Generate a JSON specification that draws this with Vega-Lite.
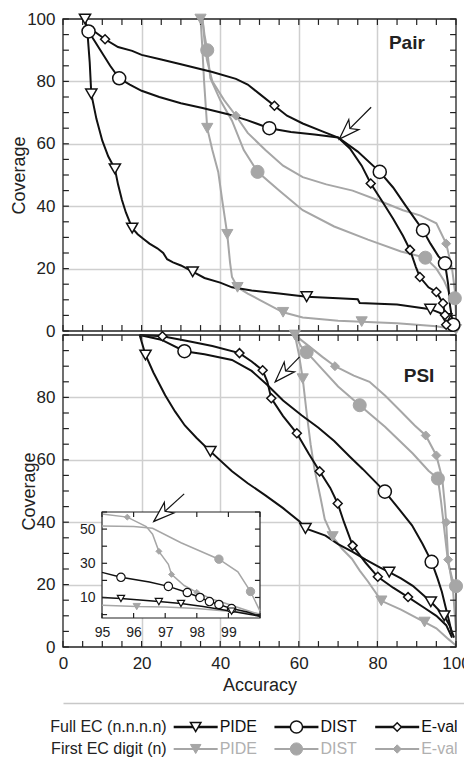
{
"$schema": "https://vega.github.io/schema/vega-lite/v6.json",
"padding": {"left": 10, "top": 10, "right": 0, "bottom": 0},
"config": {
  "font": "Liberation Sans",
  "view": {"stroke": null},
  "axis": {"labelFont": "Liberation Sans", "titleFont": "Liberation Sans", "labelFontSize": 17, "titleFontSize": 18, "titleFontWeight": "normal", "labelColor": "#222", "titleColor": "#222", "domainColor": "#222", "tickColor": "#111", "domainWidth": 1.2, "tickWidth": 1.5, "tickOpacity": 0, "labelOverlap": false, "labelFlush": false, "minExtent": 0},
  "axisX": {"minExtent": 0},
  "axisY": {"minExtent": 0}
},
"datasets": {
"pair": [
{"series":"PIDE","ec":"full","x":5.6,"y":100,"m":1},{"series":"PIDE","ec":"full","x":6.2,"y":96,"m":0},{"series":"PIDE","ec":"full","x":6.8,"y":86,"m":0},{"series":"PIDE","ec":"full","x":7.2,"y":76,"m":1},{"series":"PIDE","ec":"full","x":8.5,"y":68,"m":0},{"series":"PIDE","ec":"full","x":10,"y":61,"m":0},{"series":"PIDE","ec":"full","x":11.5,"y":56,"m":0},{"series":"PIDE","ec":"full","x":13.2,"y":52,"m":1},{"series":"PIDE","ec":"full","x":14,"y":47,"m":0},{"series":"PIDE","ec":"full","x":15,"y":42,"m":0},{"series":"PIDE","ec":"full","x":16,"y":38,"m":0},{"series":"PIDE","ec":"full","x":17.6,"y":33,"m":1},{"series":"PIDE","ec":"full","x":19,"y":31,"m":0},{"series":"PIDE","ec":"full","x":20.5,"y":29.5,"m":0},{"series":"PIDE","ec":"full","x":22,"y":28,"m":0},{"series":"PIDE","ec":"full","x":24,"y":26.5,"m":0},{"series":"PIDE","ec":"full","x":25.5,"y":25,"m":0},{"series":"PIDE","ec":"full","x":26.5,"y":23,"m":0},{"series":"PIDE","ec":"full","x":28,"y":22,"m":0},{"series":"PIDE","ec":"full","x":30,"y":21,"m":0},{"series":"PIDE","ec":"full","x":33,"y":19,"m":1},{"series":"PIDE","ec":"full","x":36,"y":17,"m":0},{"series":"PIDE","ec":"full","x":40,"y":15.5,"m":0},{"series":"PIDE","ec":"full","x":43,"y":14,"m":0},{"series":"PIDE","ec":"full","x":48,"y":13,"m":0},{"series":"PIDE","ec":"full","x":55,"y":12,"m":0},{"series":"PIDE","ec":"full","x":62,"y":11,"m":1},{"series":"PIDE","ec":"full","x":70,"y":10.5,"m":0},{"series":"PIDE","ec":"full","x":75,"y":10.2,"m":0},{"series":"PIDE","ec":"full","x":75.5,"y":9,"m":0},{"series":"PIDE","ec":"full","x":85,"y":8.5,"m":0},{"series":"PIDE","ec":"full","x":93.5,"y":7,"m":1},{"series":"PIDE","ec":"full","x":96.5,"y":5.5,"m":0},{"series":"PIDE","ec":"full","x":97.5,"y":4,"m":1},{"series":"PIDE","ec":"full","x":98.5,"y":1.5,"m":0},
{"series":"DIST","ec":"full","x":6.5,"y":96,"m":1},{"series":"DIST","ec":"full","x":8,"y":93,"m":0},{"series":"DIST","ec":"full","x":10,"y":89,"m":0},{"series":"DIST","ec":"full","x":12,"y":85,"m":0},{"series":"DIST","ec":"full","x":14.3,"y":81,"m":1},{"series":"DIST","ec":"full","x":17,"y":79,"m":0},{"series":"DIST","ec":"full","x":20,"y":77,"m":0},{"series":"DIST","ec":"full","x":24.5,"y":75,"m":0},{"series":"DIST","ec":"full","x":30,"y":73,"m":0},{"series":"DIST","ec":"full","x":35.5,"y":71.5,"m":0},{"series":"DIST","ec":"full","x":42,"y":69.5,"m":0},{"series":"DIST","ec":"full","x":47,"y":67.5,"m":0},{"series":"DIST","ec":"full","x":52.5,"y":65,"m":1},{"series":"DIST","ec":"full","x":58,"y":63.8,"m":0},{"series":"DIST","ec":"full","x":64,"y":63,"m":0},{"series":"DIST","ec":"full","x":70,"y":62,"m":0},{"series":"DIST","ec":"full","x":75,"y":57.5,"m":0},{"series":"DIST","ec":"full","x":80.6,"y":51,"m":1},{"series":"DIST","ec":"full","x":84,"y":46,"m":0},{"series":"DIST","ec":"full","x":87,"y":40.5,"m":0},{"series":"DIST","ec":"full","x":89.5,"y":36,"m":0},{"series":"DIST","ec":"full","x":91.6,"y":32.3,"m":1},{"series":"DIST","ec":"full","x":93.5,"y":28,"m":0},{"series":"DIST","ec":"full","x":95.5,"y":24,"m":0},{"series":"DIST","ec":"full","x":97.2,"y":21.7,"m":1},{"series":"DIST","ec":"full","x":98,"y":15,"m":0},{"series":"DIST","ec":"full","x":98.5,"y":8,"m":0},{"series":"DIST","ec":"full","x":99,"y":4,"m":0},{"series":"DIST","ec":"full","x":99.3,"y":2,"m":1},
{"series":"E-val","ec":"full","x":6,"y":98,"m":0},{"series":"E-val","ec":"full","x":8,"y":96,"m":0},{"series":"E-val","ec":"full","x":10.7,"y":93.5,"m":1},{"series":"E-val","ec":"full","x":14,"y":91,"m":0},{"series":"E-val","ec":"full","x":17.6,"y":89.8,"m":0},{"series":"E-val","ec":"full","x":20,"y":88.5,"m":0},{"series":"E-val","ec":"full","x":25,"y":87,"m":0},{"series":"E-val","ec":"full","x":30,"y":85.5,"m":0},{"series":"E-val","ec":"full","x":38,"y":83,"m":0},{"series":"E-val","ec":"full","x":44,"y":80.8,"m":0},{"series":"E-val","ec":"full","x":47,"y":79,"m":0},{"series":"E-val","ec":"full","x":50,"y":76,"m":0},{"series":"E-val","ec":"full","x":53.8,"y":72.2,"m":1},{"series":"E-val","ec":"full","x":57,"y":69,"m":0},{"series":"E-val","ec":"full","x":61,"y":66.5,"m":0},{"series":"E-val","ec":"full","x":66,"y":64,"m":0},{"series":"E-val","ec":"full","x":70,"y":62,"m":0},{"series":"E-val","ec":"full","x":73,"y":58.5,"m":0},{"series":"E-val","ec":"full","x":76,"y":53,"m":0},{"series":"E-val","ec":"full","x":78.3,"y":47.3,"m":1},{"series":"E-val","ec":"full","x":81,"y":42,"m":0},{"series":"E-val","ec":"full","x":84,"y":36,"m":0},{"series":"E-val","ec":"full","x":86.5,"y":30.5,"m":0},{"series":"E-val","ec":"full","x":88.3,"y":26,"m":1},{"series":"E-val","ec":"full","x":89.8,"y":20.5,"m":0},{"series":"E-val","ec":"full","x":90.8,"y":17.3,"m":1},{"series":"E-val","ec":"full","x":93,"y":14,"m":0},{"series":"E-val","ec":"full","x":95,"y":12.5,"m":1},{"series":"E-val","ec":"full","x":96.7,"y":8.9,"m":1},{"series":"E-val","ec":"full","x":97.2,"y":5.1,"m":1},{"series":"E-val","ec":"full","x":97.5,"y":2,"m":1},
{"series":"PIDE","ec":"first","x":35,"y":100,"m":1},{"series":"PIDE","ec":"first","x":35.4,"y":92,"m":0},{"series":"PIDE","ec":"first","x":35.9,"y":80,"m":0},{"series":"PIDE","ec":"first","x":36.7,"y":65,"m":1},{"series":"PIDE","ec":"first","x":38,"y":58,"m":0},{"series":"PIDE","ec":"first","x":39.5,"y":51,"m":0},{"series":"PIDE","ec":"first","x":40.5,"y":42,"m":0},{"series":"PIDE","ec":"first","x":41.8,"y":31,"m":1},{"series":"PIDE","ec":"first","x":42.5,"y":22,"m":0},{"series":"PIDE","ec":"first","x":43,"y":17.3,"m":0},{"series":"PIDE","ec":"first","x":44.4,"y":14,"m":1},{"series":"PIDE","ec":"first","x":47,"y":12,"m":0},{"series":"PIDE","ec":"first","x":50,"y":10,"m":0},{"series":"PIDE","ec":"first","x":56,"y":6,"m":1},{"series":"PIDE","ec":"first","x":61,"y":4.3,"m":0},{"series":"PIDE","ec":"first","x":70,"y":3.3,"m":0},{"series":"PIDE","ec":"first","x":76,"y":3,"m":1},{"series":"PIDE","ec":"first","x":85,"y":2.5,"m":0},{"series":"PIDE","ec":"first","x":95,"y":1.5,"m":0},{"series":"PIDE","ec":"first","x":100,"y":0.5,"m":1},
{"series":"DIST","ec":"first","x":35.5,"y":100,"m":0},{"series":"DIST","ec":"first","x":36,"y":95,"m":0},{"series":"DIST","ec":"first","x":36.7,"y":90,"m":1},{"series":"DIST","ec":"first","x":37.5,"y":81,"m":0},{"series":"DIST","ec":"first","x":40,"y":74,"m":0},{"series":"DIST","ec":"first","x":43,"y":67.4,"m":0},{"series":"DIST","ec":"first","x":46,"y":58,"m":0},{"series":"DIST","ec":"first","x":49.5,"y":51,"m":1},{"series":"DIST","ec":"first","x":55,"y":45,"m":0},{"series":"DIST","ec":"first","x":61,"y":38.7,"m":0},{"series":"DIST","ec":"first","x":69,"y":33.5,"m":0},{"series":"DIST","ec":"first","x":77.6,"y":29.3,"m":0},{"series":"DIST","ec":"first","x":86,"y":25.5,"m":0},{"series":"DIST","ec":"first","x":92.2,"y":23.5,"m":1},{"series":"DIST","ec":"first","x":95,"y":20,"m":0},{"series":"DIST","ec":"first","x":97,"y":16,"m":0},{"series":"DIST","ec":"first","x":98.4,"y":12,"m":0},{"series":"DIST","ec":"first","x":99.7,"y":10.5,"m":1},
{"series":"E-val","ec":"first","x":35.5,"y":100,"m":0},{"series":"E-val","ec":"first","x":36,"y":93,"m":0},{"series":"E-val","ec":"first","x":36.6,"y":87,"m":0},{"series":"E-val","ec":"first","x":38,"y":80,"m":0},{"series":"E-val","ec":"first","x":41,"y":74,"m":0},{"series":"E-val","ec":"first","x":44,"y":69,"m":1},{"series":"E-val","ec":"first","x":47,"y":63.5,"m":0},{"series":"E-val","ec":"first","x":51.5,"y":58,"m":0},{"series":"E-val","ec":"first","x":56,"y":53,"m":0},{"series":"E-val","ec":"first","x":61,"y":49.3,"m":0},{"series":"E-val","ec":"first","x":67,"y":47,"m":0},{"series":"E-val","ec":"first","x":73.7,"y":45,"m":0},{"series":"E-val","ec":"first","x":80,"y":42,"m":0},{"series":"E-val","ec":"first","x":86.5,"y":38.7,"m":0},{"series":"E-val","ec":"first","x":91,"y":37,"m":0},{"series":"E-val","ec":"first","x":95,"y":34.5,"m":0},{"series":"E-val","ec":"first","x":97.5,"y":28,"m":1},{"series":"E-val","ec":"first","x":99,"y":20,"m":0},{"series":"E-val","ec":"first","x":99.7,"y":13,"m":0},{"series":"E-val","ec":"first","x":100,"y":5,"m":0}
],
"psi": [
{"series":"PIDE","ec":"full","x":19.5,"y":100,"m":0},{"series":"PIDE","ec":"full","x":21,"y":93.6,"m":1},{"series":"PIDE","ec":"full","x":23,"y":88,"m":0},{"series":"PIDE","ec":"full","x":26,"y":80.7,"m":0},{"series":"PIDE","ec":"full","x":28.5,"y":75.5,"m":0},{"series":"PIDE","ec":"full","x":31,"y":71,"m":0},{"series":"PIDE","ec":"full","x":34,"y":67,"m":0},{"series":"PIDE","ec":"full","x":37.5,"y":62.7,"m":1},{"series":"PIDE","ec":"full","x":43,"y":56.3,"m":0},{"series":"PIDE","ec":"full","x":47,"y":52.5,"m":0},{"series":"PIDE","ec":"full","x":51.5,"y":48.6,"m":0},{"series":"PIDE","ec":"full","x":56,"y":44.5,"m":0},{"series":"PIDE","ec":"full","x":60.2,"y":40.2,"m":0},{"series":"PIDE","ec":"full","x":61.7,"y":38,"m":1},{"series":"PIDE","ec":"full","x":66.8,"y":35.7,"m":0},{"series":"PIDE","ec":"full","x":70,"y":33,"m":0},{"series":"PIDE","ec":"full","x":73.7,"y":30.5,"m":0},{"series":"PIDE","ec":"full","x":77,"y":28,"m":0},{"series":"PIDE","ec":"full","x":80.6,"y":25.5,"m":0},{"series":"PIDE","ec":"full","x":83,"y":24,"m":1},{"series":"PIDE","ec":"full","x":86,"y":22,"m":0},{"series":"PIDE","ec":"full","x":89,"y":19.6,"m":0},{"series":"PIDE","ec":"full","x":93.6,"y":14.5,"m":1},{"series":"PIDE","ec":"full","x":97,"y":10,"m":1},{"series":"PIDE","ec":"full","x":98.4,"y":6.8,"m":0},{"series":"PIDE","ec":"full","x":99.5,"y":3,"m":0},
{"series":"DIST","ec":"full","x":19.5,"y":100,"m":0},{"series":"DIST","ec":"full","x":25,"y":98.5,"m":0},{"series":"DIST","ec":"full","x":30.9,"y":94.8,"m":1},{"series":"DIST","ec":"full","x":36,"y":93.8,"m":0},{"series":"DIST","ec":"full","x":43,"y":92,"m":0},{"series":"DIST","ec":"full","x":48,"y":88.5,"m":0},{"series":"DIST","ec":"full","x":52,"y":84,"m":0},{"series":"DIST","ec":"full","x":56,"y":79,"m":0},{"series":"DIST","ec":"full","x":60.7,"y":74.3,"m":0},{"series":"DIST","ec":"full","x":65,"y":70.3,"m":0},{"series":"DIST","ec":"full","x":69,"y":66,"m":0},{"series":"DIST","ec":"full","x":73,"y":61,"m":0},{"series":"DIST","ec":"full","x":76.3,"y":57,"m":0},{"series":"DIST","ec":"full","x":81.9,"y":49.8,"m":1},{"series":"DIST","ec":"full","x":85,"y":45,"m":0},{"series":"DIST","ec":"full","x":88.8,"y":39,"m":0},{"series":"DIST","ec":"full","x":91.5,"y":33,"m":0},{"series":"DIST","ec":"full","x":93.8,"y":27.3,"m":1},{"series":"DIST","ec":"full","x":95.3,"y":22,"m":0},{"series":"DIST","ec":"full","x":96.4,"y":17.7,"m":0},{"series":"DIST","ec":"full","x":97.5,"y":12,"m":0},{"series":"DIST","ec":"full","x":98.3,"y":8,"m":0},{"series":"DIST","ec":"full","x":99,"y":4,"m":0},
{"series":"E-val","ec":"full","x":19.5,"y":100,"m":0},{"series":"E-val","ec":"full","x":25.3,"y":99.6,"m":1},{"series":"E-val","ec":"full","x":32,"y":98,"m":0},{"series":"E-val","ec":"full","x":38,"y":96.5,"m":0},{"series":"E-val","ec":"full","x":44.9,"y":94.2,"m":1},{"series":"E-val","ec":"full","x":48,"y":91.5,"m":0},{"series":"E-val","ec":"full","x":50.8,"y":88.7,"m":1},{"series":"E-val","ec":"full","x":52,"y":85,"m":0},{"series":"E-val","ec":"full","x":53,"y":79.7,"m":1},{"series":"E-val","ec":"full","x":56,"y":74,"m":0},{"series":"E-val","ec":"full","x":59.5,"y":68.5,"m":1},{"series":"E-val","ec":"full","x":62.5,"y":62,"m":0},{"series":"E-val","ec":"full","x":65.3,"y":56.3,"m":1},{"series":"E-val","ec":"full","x":68,"y":51,"m":0},{"series":"E-val","ec":"full","x":69.9,"y":46,"m":1},{"series":"E-val","ec":"full","x":71.5,"y":40,"m":0},{"series":"E-val","ec":"full","x":73.7,"y":32.5,"m":1},{"series":"E-val","ec":"full","x":77,"y":27,"m":0},{"series":"E-val","ec":"full","x":80.1,"y":22.5,"m":1},{"series":"E-val","ec":"full","x":84,"y":19,"m":0},{"series":"E-val","ec":"full","x":87.8,"y":16,"m":1},{"series":"E-val","ec":"full","x":92,"y":12.5,"m":0},{"series":"E-val","ec":"full","x":95,"y":10,"m":0},{"series":"E-val","ec":"full","x":97.5,"y":7,"m":0},{"series":"E-val","ec":"full","x":99,"y":3,"m":0},
{"series":"PIDE","ec":"first","x":59,"y":100,"m":1},{"series":"PIDE","ec":"first","x":60,"y":94,"m":0},{"series":"PIDE","ec":"first","x":61,"y":86,"m":1},{"series":"PIDE","ec":"first","x":62,"y":75,"m":0},{"series":"PIDE","ec":"first","x":63,"y":65,"m":0},{"series":"PIDE","ec":"first","x":64,"y":57,"m":0},{"series":"PIDE","ec":"first","x":65.5,"y":48,"m":0},{"series":"PIDE","ec":"first","x":66.6,"y":41,"m":0},{"series":"PIDE","ec":"first","x":68.6,"y":35.4,"m":1},{"series":"PIDE","ec":"first","x":71,"y":31.5,"m":0},{"series":"PIDE","ec":"first","x":73.5,"y":28.3,"m":0},{"series":"PIDE","ec":"first","x":75.5,"y":24.5,"m":0},{"series":"PIDE","ec":"first","x":77.6,"y":21,"m":0},{"series":"PIDE","ec":"first","x":81,"y":14.8,"m":1},{"series":"PIDE","ec":"first","x":86,"y":12,"m":0},{"series":"PIDE","ec":"first","x":92,"y":8,"m":1},{"series":"PIDE","ec":"first","x":95,"y":6,"m":0},{"series":"PIDE","ec":"first","x":98,"y":2.6,"m":0},{"series":"PIDE","ec":"first","x":100,"y":0.5,"m":0},
{"series":"DIST","ec":"first","x":59,"y":100,"m":0},{"series":"DIST","ec":"first","x":60.5,"y":96.5,"m":0},{"series":"DIST","ec":"first","x":62,"y":94.5,"m":1},{"series":"DIST","ec":"first","x":66,"y":89,"m":0},{"series":"DIST","ec":"first","x":70,"y":83.5,"m":0},{"series":"DIST","ec":"first","x":75.5,"y":77.5,"m":1},{"series":"DIST","ec":"first","x":82,"y":70.5,"m":0},{"series":"DIST","ec":"first","x":89,"y":62,"m":0},{"series":"DIST","ec":"first","x":93,"y":56.5,"m":0},{"series":"DIST","ec":"first","x":95.4,"y":54,"m":1},{"series":"DIST","ec":"first","x":96.2,"y":46.6,"m":0},{"series":"DIST","ec":"first","x":97.2,"y":35.7,"m":0},{"series":"DIST","ec":"first","x":98,"y":27,"m":0},{"series":"DIST","ec":"first","x":99,"y":22,"m":0},{"series":"DIST","ec":"first","x":100,"y":19.5,"m":1},
{"series":"E-val","ec":"first","x":59,"y":100,"m":0},{"series":"E-val","ec":"first","x":62,"y":97,"m":0},{"series":"E-val","ec":"first","x":66,"y":93,"m":0},{"series":"E-val","ec":"first","x":69.2,"y":90,"m":1},{"series":"E-val","ec":"first","x":74,"y":87,"m":0},{"series":"E-val","ec":"first","x":78,"y":85,"m":0},{"series":"E-val","ec":"first","x":82,"y":80.5,"m":0},{"series":"E-val","ec":"first","x":86,"y":75.5,"m":0},{"series":"E-val","ec":"first","x":89.5,"y":71,"m":0},{"series":"E-val","ec":"first","x":92.3,"y":67.8,"m":1},{"series":"E-val","ec":"first","x":95,"y":61.4,"m":1},{"series":"E-val","ec":"first","x":96.5,"y":54,"m":0},{"series":"E-val","ec":"first","x":97.2,"y":45,"m":0},{"series":"E-val","ec":"first","x":97.5,"y":40,"m":1},{"series":"E-val","ec":"first","x":98,"y":28,"m":1},{"series":"E-val","ec":"first","x":99.2,"y":19,"m":0},{"series":"E-val","ec":"first","x":100,"y":5,"m":0}
],
"inset": [
{"series":"DIST","ec":"full","x":95,"y":24.7,"m":0},{"series":"DIST","ec":"full","x":95.6,"y":21.8,"m":1},{"series":"DIST","ec":"full","x":96.5,"y":19,"m":0},{"series":"DIST","ec":"full","x":97.1,"y":16.5,"m":1},{"series":"DIST","ec":"full","x":97.7,"y":12.9,"m":1},{"series":"DIST","ec":"full","x":98.1,"y":10,"m":1},{"series":"DIST","ec":"full","x":98.4,"y":7.6,"m":1},{"series":"DIST","ec":"full","x":98.7,"y":5.9,"m":1},{"series":"DIST","ec":"full","x":99.1,"y":3.5,"m":1},{"series":"DIST","ec":"full","x":99.6,"y":1.5,"m":0},{"series":"DIST","ec":"full","x":100,"y":-1,"m":0},
{"series":"PIDE","ec":"full","x":95,"y":10,"m":0},{"series":"PIDE","ec":"full","x":95.6,"y":9.4,"m":1},{"series":"PIDE","ec":"full","x":96.8,"y":7.6,"m":1},{"series":"PIDE","ec":"full","x":97.5,"y":6.5,"m":1},{"series":"PIDE","ec":"full","x":98.2,"y":4.7,"m":0},{"series":"PIDE","ec":"full","x":99.1,"y":2,"m":1},{"series":"PIDE","ec":"full","x":100,"y":-1,"m":0},
{"series":"E-val","ec":"first","x":95,"y":58.8,"m":0},{"series":"E-val","ec":"first","x":95.8,"y":57,"m":1},{"series":"E-val","ec":"first","x":96.4,"y":51.5,"m":0},{"series":"E-val","ec":"first","x":96.6,"y":47,"m":0},{"series":"E-val","ec":"first","x":96.8,"y":37,"m":1},{"series":"E-val","ec":"first","x":97.1,"y":29.4,"m":0},{"series":"E-val","ec":"first","x":97.2,"y":23.5,"m":1},{"series":"E-val","ec":"first","x":97.6,"y":17,"m":0},{"series":"E-val","ec":"first","x":98,"y":13,"m":1},{"series":"E-val","ec":"first","x":98.5,"y":9,"m":0},{"series":"E-val","ec":"first","x":99,"y":6,"m":0},{"series":"E-val","ec":"first","x":99.5,"y":3,"m":0},{"series":"E-val","ec":"first","x":100,"y":0,"m":0},
{"series":"DIST","ec":"first","x":95,"y":51.8,"m":0},{"series":"DIST","ec":"first","x":96,"y":51.5,"m":0},{"series":"DIST","ec":"first","x":96.6,"y":50.5,"m":0},{"series":"DIST","ec":"first","x":97.5,"y":42,"m":0},{"series":"DIST","ec":"first","x":98.7,"y":32.4,"m":1},{"series":"DIST","ec":"first","x":99.3,"y":25,"m":0},{"series":"DIST","ec":"first","x":99.7,"y":13.5,"m":1},{"series":"DIST","ec":"first","x":100,"y":2,"m":0},
{"series":"PIDE","ec":"first","x":95,"y":5.5,"m":0},{"series":"PIDE","ec":"first","x":96.1,"y":4.7,"m":1},{"series":"PIDE","ec":"first","x":97,"y":4.5,"m":0},{"series":"PIDE","ec":"first","x":98,"y":3.5,"m":0},{"series":"PIDE","ec":"first","x":99,"y":2,"m":0},{"series":"PIDE","ec":"first","x":100,"y":0.5,"m":0}
],
"mainmarks": [{"v":0},{"v":5},{"v":10},{"v":15},{"v":20},{"v":25},{"v":30},{"v":35},{"v":40},{"v":45},{"v":50},{"v":55},{"v":60},{"v":65},{"v":70},{"v":75},{"v":80},{"v":85},{"v":90},{"v":95},{"v":100}],
"insetmarksx": [{"v":95},{"v":96},{"v":97},{"v":98},{"v":99},{"v":100}],
"insetmarksy": [{"v":0},{"v":10},{"v":20},{"v":30},{"v":40},{"v":50},{"v":60}],
"arrows": [
{"panel":"Pair","x":78.4,"y":71.7,"x2":70.3,"y2":61.5},
{"panel":"PSI","x":60.2,"y":93,"x2":54,"y2":85},
{"panel":"inset","x":97.6,"y":70.6,"x2":96.64,"y2":54.5}
],
"legend": [
{"grp":"Full EC (n.n.n.n)","series":"PIDE","ec":"full"},{"grp":"Full EC (n.n.n.n)","series":"DIST","ec":"full"},{"grp":"Full EC (n.n.n.n)","series":"E-val","ec":"full"},
{"grp":"First EC digit (n)","series":"PIDE","ec":"first"},{"grp":"First EC digit (n)","series":"DIST","ec":"first"},{"grp":"First EC digit (n)","series":"E-val","ec":"first"}
]
},
"vconcat": [
{
 "width": 393, "height": 312,
 "data": {"name": "pair"},
 "layer": [
  {"transform": [{"filter": "datum.ec === 'first'"}],
   "mark": {"type": "line", "color": "#a6a6a6", "strokeWidth": 2},
   "encoding": {
    "x": {"field": "x", "type": "quantitative", "scale": {"domain": [0,100], "nice": false, "zero": false},
          "axis": {"orient": "bottom", "offset": -6, "values": [0,5,10,15,20,25,30,35,40,45,50,55,60,65,70,75,80,85,90,95,100], "labels": false, "domain": false, "ticks": true, "tickSize": 6, "grid": true, "gridWidth": 1.5, "gridColor": {"condition": {"test": "datum.value % 20 === 0 && datum.value > 0 && datum.value < 100", "value": "#cfcfcf"}, "value": "rgba(0,0,0,0)"}, "title": null, "zindex": 0}},
    "y": {"field": "y", "type": "quantitative", "scale": {"domain": [0,100], "nice": false, "zero": false},
          "axis": {"orient": "left", "offset": -6, "values": [0,5,10,15,20,25,30,35,40,45,50,55,60,65,70,75,80,85,90,95,100], "labelExpr": "datum.value % 20 === 0 ? datum.label : ''", "domain": false, "ticks": true, "tickSize": 6, "labelPadding": 8, "grid": true, "gridWidth": 1.5, "gridColor": {"condition": {"test": "datum.value % 20 === 0 && datum.value > 0 && datum.value < 100", "value": "#cfcfcf"}, "value": "rgba(0,0,0,0)"}, "title": "Coverage", "titlePadding": -2, "zindex": 0}},
    "detail": {"field": "series"}
   }},
  {"transform": [{"filter": "datum.ec === 'full'"}],
   "mark": {"type": "line", "color": "#111", "strokeWidth": 2},
   "encoding": {
    "x": {"field": "x", "type": "quantitative", "scale": {"domain": [0,100], "nice": false, "zero": false},
          "axis": {"orient": "top", "offset": -6, "values": [0,5,10,15,20,25,30,35,40,45,50,55,60,65,70,75,80,85,90,95,100], "labels": false, "domain": false, "ticks": true, "tickSize": 6, "grid": false, "title": null, "zindex": 0}},
    "y": {"field": "y", "type": "quantitative", "scale": {"domain": [0,100], "nice": false, "zero": false},
          "axis": {"orient": "right", "offset": -6, "values": [0,5,10,15,20,25,30,35,40,45,50,55,60,65,70,75,80,85,90,95,100], "labels": false, "domain": false, "ticks": true, "tickSize": 6, "grid": false, "title": null, "zindex": 0}},
    "detail": {"field": "series"}
   }},
  {"data": {"values": [{}]},
   "mark": {"type": "rect", "fill": null, "fillOpacity": 0, "stroke": "#222", "strokeWidth": 1.3},
   "encoding": {"x": {"datum": 0, "type": "quantitative", "axis": null}, "x2": {"datum": 100}, "y": {"datum": 0, "type": "quantitative", "axis": null}, "y2": {"datum": 100}}},
  {"data": {"name": "mainmarks"}, "mark": {"type": "rule", "color": "#222", "strokeWidth": 1.2},
   "encoding": {"x": {"field": "v", "type": "quantitative", "axis": null}, "y": {"datum": 0, "type": "quantitative", "axis": null}, "y2": {"datum": 1.9}}},
  {"data": {"name": "mainmarks"}, "mark": {"type": "rule", "color": "#222", "strokeWidth": 1.2},
   "encoding": {"x": {"field": "v", "type": "quantitative", "axis": null}, "y": {"datum": 100, "type": "quantitative", "axis": null}, "y2": {"datum": 98.1}}},
  {"data": {"name": "mainmarks"}, "mark": {"type": "rule", "color": "#222", "strokeWidth": 1.2},
   "encoding": {"y": {"field": "v", "type": "quantitative", "axis": null}, "x": {"datum": 0, "type": "quantitative", "axis": null}, "x2": {"datum": 1.5}}},
  {"data": {"name": "mainmarks"}, "mark": {"type": "rule", "color": "#222", "strokeWidth": 1.2},
   "encoding": {"y": {"field": "v", "type": "quantitative", "axis": null}, "x": {"datum": 100, "type": "quantitative", "axis": null}, "x2": {"datum": 98.5}}},
  {"transform": [{"filter": "datum.ec === 'first' && datum.m === 1"}],
   "mark": {"type": "point", "filled": true, "fill": "#a6a6a6", "stroke": "#a6a6a6", "strokeWidth": 1, "opacity": 1},
   "encoding": {
    "x": {"field": "x", "type": "quantitative", "axis": null},
    "y": {"field": "y", "type": "quantitative", "axis": null},
    "shape": {"field": "series", "type": "nominal", "scale": {"domain": ["PIDE","DIST","E-val"], "range": ["triangle-down","circle","diamond"]}, "legend": null},
    "size": {"field": "series", "type": "ordinal", "scale": {"type": "point", "domain": ["DIST","PIDE","E-val"], "range": [170, 80], "padding": 0}, "legend": null}
   }},
  {"transform": [{"filter": "datum.ec === 'full' && datum.m === 1"}],
   "mark": {"type": "point", "filled": true, "fill": "white", "stroke": "#111", "strokeWidth": 1.5, "opacity": 1},
   "encoding": {
    "x": {"field": "x", "type": "quantitative", "axis": null},
    "y": {"field": "y", "type": "quantitative", "axis": null},
    "shape": {"field": "series", "type": "nominal", "scale": {"domain": ["PIDE","DIST","E-val"], "range": ["triangle-down","circle","diamond"]}, "legend": null},
    "size": {"field": "series", "type": "ordinal", "scale": {"type": "point", "domain": ["DIST","PIDE","E-val"], "range": [170, 80], "padding": 0}, "legend": null}
   }},
  {"data": {"values": [{}]},
   "mark": {"type": "text", "text": "Pair", "fontSize": 19, "fontWeight": "bold", "color": "#222"},
   "encoding": {"x": {"datum": 87.5, "type": "quantitative", "axis": null}, "y": {"datum": 92.3, "type": "quantitative", "axis": null}}},
  {"data": {"name": "arrows"}, "transform": [{"filter": "datum.panel === 'Pair'"}],
   "mark": {"type": "rule", "color": "#111", "strokeWidth": 1.2},
   "encoding": {"x": {"field": "x", "type": "quantitative", "axis": null}, "y": {"field": "y", "type": "quantitative", "axis": null}, "x2": {"field": "x2"}, "y2": {"field": "y2"}}},
  {"data": {"name": "arrows"}, "transform": [{"filter": "datum.panel === 'Pair'"}],
   "mark": {"type": "point", "shape": "M0,0L0.45,1.3L0,0.95L-0.45,1.3Z", "size": 1000, "filled": true, "fill": "white", "stroke": "#111", "strokeWidth": 1.2, "angle": 225, "opacity": 1},
   "encoding": {"x": {"field": "x2", "type": "quantitative", "axis": null}, "y": {"field": "y2", "type": "quantitative", "axis": null}}}
 ]
},
{
 "width": 393, "height": 312,
 "resolve": {"scale": {"x": "independent", "y": "independent", "size": "independent"}},
 "layer": [
  {"data": {"name": "psi"},
   "layer": [
    {"transform": [{"filter": "datum.ec === 'first'"}],
     "mark": {"type": "line", "color": "#a6a6a6", "strokeWidth": 2},
     "encoding": {
      "x": {"field": "x", "type": "quantitative", "scale": {"domain": [0,100], "nice": false, "zero": false},
            "axis": {"orient": "bottom", "offset": -6, "values": [0,5,10,15,20,25,30,35,40,45,50,55,60,65,70,75,80,85,90,95,100], "labelExpr": "datum.value % 20 === 0 ? datum.label : ''", "domain": false, "ticks": true, "tickSize": 6, "labelPadding": 8, "grid": true, "gridWidth": 1.5, "gridColor": {"condition": {"test": "datum.value % 20 === 0 && datum.value > 0 && datum.value < 100", "value": "#cfcfcf"}, "value": "rgba(0,0,0,0)"}, "title": "Accuracy", "titlePadding": 5, "zindex": 0}},
      "y": {"field": "y", "type": "quantitative", "scale": {"domain": [0,100], "nice": false, "zero": false},
            "axis": {"orient": "left", "offset": -6, "values": [0,5,10,15,20,25,30,35,40,45,50,55,60,65,70,75,80,85,90,95,100], "labelExpr": "datum.value % 20 === 0 && datum.value < 100 ? datum.label : ''", "domain": false, "ticks": true, "tickSize": 6, "labelPadding": 8, "grid": true, "gridWidth": 1.5, "gridColor": {"condition": {"test": "datum.value % 20 === 0 && datum.value > 0 && datum.value < 100", "value": "#cfcfcf"}, "value": "rgba(0,0,0,0)"}, "title": "Coverage", "titlePadding": -2, "zindex": 0}},
      "detail": {"field": "series"}
     }},
    {"transform": [{"filter": "datum.ec === 'full'"}],
     "mark": {"type": "line", "color": "#111", "strokeWidth": 2},
     "encoding": {
      "x": {"field": "x", "type": "quantitative", "scale": {"domain": [0,100], "nice": false, "zero": false},
            "axis": {"orient": "top", "offset": -6, "values": [0,5,10,15,20,25,30,35,40,45,50,55,60,65,70,75,80,85,90,95,100], "labels": false, "domain": false, "ticks": true, "tickSize": 6, "grid": false, "title": null, "zindex": 0}},
      "y": {"field": "y", "type": "quantitative", "scale": {"domain": [0,100], "nice": false, "zero": false},
            "axis": {"orient": "right", "offset": -6, "values": [0,5,10,15,20,25,30,35,40,45,50,55,60,65,70,75,80,85,90,95,100], "labels": false, "domain": false, "ticks": true, "tickSize": 6, "grid": false, "title": null, "zindex": 0}},
      "detail": {"field": "series"}
     }},
    {"data": {"values": [{}]},
     "mark": {"type": "rect", "fill": null, "fillOpacity": 0, "stroke": "#222", "strokeWidth": 1.3},
     "encoding": {"x": {"datum": 0, "type": "quantitative", "axis": null}, "x2": {"datum": 100}, "y": {"datum": 0, "type": "quantitative", "axis": null}, "y2": {"datum": 100}}},
    {"data": {"name": "mainmarks"}, "mark": {"type": "rule", "color": "#222", "strokeWidth": 1.2},
     "encoding": {"x": {"field": "v", "type": "quantitative", "axis": null}, "y": {"datum": 0, "type": "quantitative", "axis": null}, "y2": {"datum": 1.9}}},
    {"data": {"name": "mainmarks"}, "mark": {"type": "rule", "color": "#222", "strokeWidth": 1.2},
     "encoding": {"x": {"field": "v", "type": "quantitative", "axis": null}, "y": {"datum": 100, "type": "quantitative", "axis": null}, "y2": {"datum": 98.1}}},
    {"data": {"name": "mainmarks"}, "mark": {"type": "rule", "color": "#222", "strokeWidth": 1.2},
     "encoding": {"y": {"field": "v", "type": "quantitative", "axis": null}, "x": {"datum": 0, "type": "quantitative", "axis": null}, "x2": {"datum": 1.5}}},
    {"data": {"name": "mainmarks"}, "mark": {"type": "rule", "color": "#222", "strokeWidth": 1.2},
     "encoding": {"y": {"field": "v", "type": "quantitative", "axis": null}, "x": {"datum": 100, "type": "quantitative", "axis": null}, "x2": {"datum": 98.5}}},
    {"transform": [{"filter": "datum.ec === 'first' && datum.m === 1"}],
     "mark": {"type": "point", "filled": true, "fill": "#a6a6a6", "stroke": "#a6a6a6", "strokeWidth": 1, "opacity": 1},
     "encoding": {
      "x": {"field": "x", "type": "quantitative", "axis": null},
      "y": {"field": "y", "type": "quantitative", "axis": null},
      "shape": {"field": "series", "type": "nominal", "scale": {"domain": ["PIDE","DIST","E-val"], "range": ["triangle-down","circle","diamond"]}, "legend": null},
      "size": {"field": "series", "type": "ordinal", "scale": {"type": "point", "domain": ["DIST","PIDE","E-val"], "range": [170, 80], "padding": 0}, "legend": null}
     }},
    {"transform": [{"filter": "datum.ec === 'full' && datum.m === 1"}],
     "mark": {"type": "point", "filled": true, "fill": "white", "stroke": "#111", "strokeWidth": 1.5, "opacity": 1},
     "encoding": {
      "x": {"field": "x", "type": "quantitative", "axis": null},
      "y": {"field": "y", "type": "quantitative", "axis": null},
      "shape": {"field": "series", "type": "nominal", "scale": {"domain": ["PIDE","DIST","E-val"], "range": ["triangle-down","circle","diamond"]}, "legend": null},
      "size": {"field": "series", "type": "ordinal", "scale": {"type": "point", "domain": ["DIST","PIDE","E-val"], "range": [170, 80], "padding": 0}, "legend": null}
     }},
    {"data": {"values": [{}]},
     "mark": {"type": "text", "text": "PSI", "fontSize": 19, "fontWeight": "bold", "color": "#222"},
     "encoding": {"x": {"datum": 90.6, "type": "quantitative", "axis": null}, "y": {"datum": 86.9, "type": "quantitative", "axis": null}}},
    {"data": {"name": "arrows"}, "transform": [{"filter": "datum.panel === 'PSI'"}],
     "mark": {"type": "rule", "color": "#111", "strokeWidth": 1.2},
     "encoding": {"x": {"field": "x", "type": "quantitative", "axis": null}, "y": {"field": "y", "type": "quantitative", "axis": null}, "x2": {"field": "x2"}, "y2": {"field": "y2"}}},
    {"data": {"name": "arrows"}, "transform": [{"filter": "datum.panel === 'PSI'"}],
     "mark": {"type": "point", "shape": "M0,0L0.45,1.3L0,0.95L-0.45,1.3Z", "size": 1000, "filled": true, "fill": "white", "stroke": "#111", "strokeWidth": 1.2, "angle": 223.5, "opacity": 1},
     "encoding": {"x": {"field": "x2", "type": "quantitative", "axis": null}, "y": {"field": "y2", "type": "quantitative", "axis": null}}}
   ]},
  {"data": {"name": "inset"},
   "layer": [
    {"data": {"values": [{}]},
     "mark": {"type": "rect", "fill": "white", "stroke": "#222", "strokeWidth": 1.2},
     "encoding": {
      "x": {"datum": 95, "type": "quantitative", "scale": {"domain": [95,100], "range": [39,197], "nice": false, "zero": false},
            "axis": {"orient": "bottom", "offset": -34, "values": [95,96,97,98,99,100], "labelExpr": "datum.value < 100 ? datum.label : ''", "domain": false, "ticks": true, "tickSize": 5, "labelPadding": 7, "labelFontSize": 14, "grid": false, "title": null, "zindex": 1}},
      "x2": {"datum": 100},
      "y": {"datum": -2, "type": "quantitative", "scale": {"domain": [-2,60], "range": [283,177], "nice": false, "zero": false},
            "axis": {"orient": "left", "offset": -44, "values": [0,10,20,30,40,50,60], "labelExpr": "datum.value === 10 || datum.value === 30 || datum.value === 50 ? datum.label : ''", "domain": false, "ticks": true, "tickSize": 5, "labelPadding": 7, "labelFontSize": 14, "grid": false, "title": null, "zindex": 1}},
      "y2": {"datum": 60}
     }},
    {"transform": [{"filter": "datum.ec === 'first'"}],
     "mark": {"type": "line", "color": "#a6a6a6", "strokeWidth": 1.5},
     "encoding": {
      "x": {"field": "x", "type": "quantitative", "scale": {"domain": [95,100], "range": [39,197], "nice": false, "zero": false},
            "axis": {"orient": "top", "offset": -182, "values": [95,96,97,98,99,100], "labels": false, "domain": false, "ticks": true, "tickSize": 5, "grid": false, "title": null, "zindex": 1}},
      "y": {"field": "y", "type": "quantitative", "scale": {"domain": [-2,60], "range": [283,177], "nice": false, "zero": false},
            "axis": {"orient": "right", "offset": -201, "values": [0,10,20,30,40,50,60], "labels": false, "domain": false, "ticks": true, "tickSize": 5, "grid": false, "title": null, "zindex": 1}},
      "detail": {"field": "series"}
     }},
    {"transform": [{"filter": "datum.ec === 'full'"}],
     "mark": {"type": "line", "color": "#111", "strokeWidth": 1.5},
     "encoding": {
      "x": {"field": "x", "type": "quantitative", "scale": {"domain": [95,100], "range": [39,197], "nice": false, "zero": false}, "axis": null},
      "y": {"field": "y", "type": "quantitative", "scale": {"domain": [-2,60], "range": [283,177], "nice": false, "zero": false}, "axis": null},
      "detail": {"field": "series"}
     }},
    {"data": {"name": "insetmarksx"}, "mark": {"type": "rule", "color": "#222", "strokeWidth": 1.2},
     "encoding": {"x": {"field": "v", "type": "quantitative", "axis": null}, "y": {"datum": -2, "type": "quantitative", "axis": null}, "y2": {"datum": 0.9}}},
    {"data": {"name": "insetmarksx"}, "mark": {"type": "rule", "color": "#222", "strokeWidth": 1.2},
     "encoding": {"x": {"field": "v", "type": "quantitative", "axis": null}, "y": {"datum": 60, "type": "quantitative", "axis": null}, "y2": {"datum": 57.1}}},
    {"data": {"name": "insetmarksy"}, "mark": {"type": "rule", "color": "#222", "strokeWidth": 1.2},
     "encoding": {"y": {"field": "v", "type": "quantitative", "axis": null}, "x": {"datum": 95, "type": "quantitative", "axis": null}, "x2": {"datum": 95.16}}},
    {"data": {"name": "insetmarksy"}, "mark": {"type": "rule", "color": "#222", "strokeWidth": 1.2},
     "encoding": {"y": {"field": "v", "type": "quantitative", "axis": null}, "x": {"datum": 100, "type": "quantitative", "axis": null}, "x2": {"datum": 99.84}}},
    {"transform": [{"filter": "datum.ec === 'first' && datum.m === 1"}],
     "mark": {"type": "point", "filled": true, "fill": "#a6a6a6", "stroke": "#a6a6a6", "strokeWidth": 1, "opacity": 1},
     "encoding": {
      "x": {"field": "x", "type": "quantitative", "axis": null},
      "y": {"field": "y", "type": "quantitative", "axis": null},
      "shape": {"field": "series", "type": "nominal", "scale": {"domain": ["PIDE","DIST","E-val"], "range": ["triangle-down","circle","diamond"]}, "legend": null},
      "size": {"field": "series", "type": "ordinal", "scale": {"type": "point", "domain": ["DIST","PIDE","E-val"], "range": [70, 35], "padding": 0}, "legend": null}
     }},
    {"transform": [{"filter": "datum.ec === 'full' && datum.m === 1"}],
     "mark": {"type": "point", "filled": true, "fill": "white", "stroke": "#111", "strokeWidth": 1.2, "opacity": 1},
     "encoding": {
      "x": {"field": "x", "type": "quantitative", "axis": null},
      "y": {"field": "y", "type": "quantitative", "axis": null},
      "shape": {"field": "series", "type": "nominal", "scale": {"domain": ["PIDE","DIST","E-val"], "range": ["triangle-down","circle","diamond"]}, "legend": null},
      "size": {"field": "series", "type": "ordinal", "scale": {"type": "point", "domain": ["DIST","PIDE","E-val"], "range": [70, 35], "padding": 0}, "legend": null}
     }},
    {"data": {"name": "arrows"}, "transform": [{"filter": "datum.panel === 'inset'"}],
     "mark": {"type": "rule", "color": "#111", "strokeWidth": 1.2},
     "encoding": {"x": {"field": "x", "type": "quantitative", "axis": null}, "y": {"field": "y", "type": "quantitative", "axis": null}, "x2": {"field": "x2"}, "y2": {"field": "y2"}}},
    {"data": {"name": "arrows"}, "transform": [{"filter": "datum.panel === 'inset'"}],
     "mark": {"type": "point", "shape": "M0,0L0.45,1.3L0,0.95L-0.45,1.3Z", "size": 1000, "filled": true, "fill": "white", "stroke": "#111", "strokeWidth": 1.2, "angle": 228, "opacity": 1},
     "encoding": {"x": {"field": "x2", "type": "quantitative", "axis": null}, "y": {"field": "y2", "type": "quantitative", "axis": null}}}
   ]}
 ]
},
{
 "width": 403, "height": 106,
 "data": {"name": "legend"},
 "encoding": {
  "x": {"field": "series", "type": "nominal", "scale": {"type": "point", "domain": ["PIDE","DIST","E-val"], "padding": 1.035, "align": 0.6585},
        "axis": {"orient": "top", "offset": -52, "labels": false, "ticks": false, "grid": false, "title": null, "domain": true, "domainColor": "#c8c8c8", "domainWidth": 1.5}},
  "y": {"field": "grp", "type": "nominal", "scale": {"type": "point", "domain": ["Full EC (n.n.n.n)","First EC digit (n)"], "range": [76, 98], "padding": 0}, "axis": null}
 },
 "layer": [
  {"transform": [{"filter": "datum.ec === 'full'"}],
   "mark": {"type": "point", "shape": "M-1,0L1,0", "size": 1936, "filled": false, "stroke": "#111", "strokeWidth": 2.5, "opacity": 1}},
  {"transform": [{"filter": "datum.ec === 'first'"}],
   "mark": {"type": "point", "shape": "M-1,0L1,0", "size": 1936, "filled": false, "stroke": "#a6a6a6", "strokeWidth": 2, "opacity": 1}},
  {"transform": [{"filter": "datum.ec === 'full'"}],
   "mark": {"type": "point", "filled": true, "fill": "white", "stroke": "#111", "strokeWidth": 1.5, "opacity": 1},
   "encoding": {
    "shape": {"field": "series", "type": "nominal", "scale": {"domain": ["PIDE","DIST","E-val"], "range": ["triangle-down","circle","diamond"]}, "legend": null},
    "size": {"field": "series", "type": "ordinal", "scale": {"type": "point", "domain": ["DIST","PIDE","E-val"], "range": [150, 70], "padding": 0}, "legend": null}
   }},
  {"transform": [{"filter": "datum.ec === 'first'"}],
   "mark": {"type": "point", "filled": true, "fill": "#a6a6a6", "stroke": "#a6a6a6", "strokeWidth": 1, "opacity": 1},
   "encoding": {
    "shape": {"field": "series", "type": "nominal", "scale": {"domain": ["PIDE","DIST","E-val"], "range": ["triangle-down","circle","diamond"]}, "legend": null},
    "size": {"field": "series", "type": "ordinal", "scale": {"type": "point", "domain": ["DIST","PIDE","E-val"], "range": [150, 70], "padding": 0}, "legend": null}
   }},
  {"transform": [{"filter": "datum.ec === 'full'"}],
   "mark": {"type": "text", "align": "left", "baseline": "middle", "dx": 24, "fontSize": 16, "color": "#111"},
   "encoding": {"text": {"field": "series"}}},
  {"transform": [{"filter": "datum.ec === 'first'"}],
   "mark": {"type": "text", "align": "left", "baseline": "middle", "dx": 24, "fontSize": 16, "color": "#b0b0b0"},
   "encoding": {"text": {"field": "series"}}},
  {"transform": [{"filter": "datum.series === 'PIDE'"}],
   "mark": {"type": "text", "align": "right", "baseline": "middle", "dx": -29, "fontSize": 16, "color": "#222"},
   "encoding": {"text": {"field": "grp"}}}
 ]
}
],
"bounds": "flush",
"spacing": 4,
"resolve": {"scale": {"size": "independent"}}
}
